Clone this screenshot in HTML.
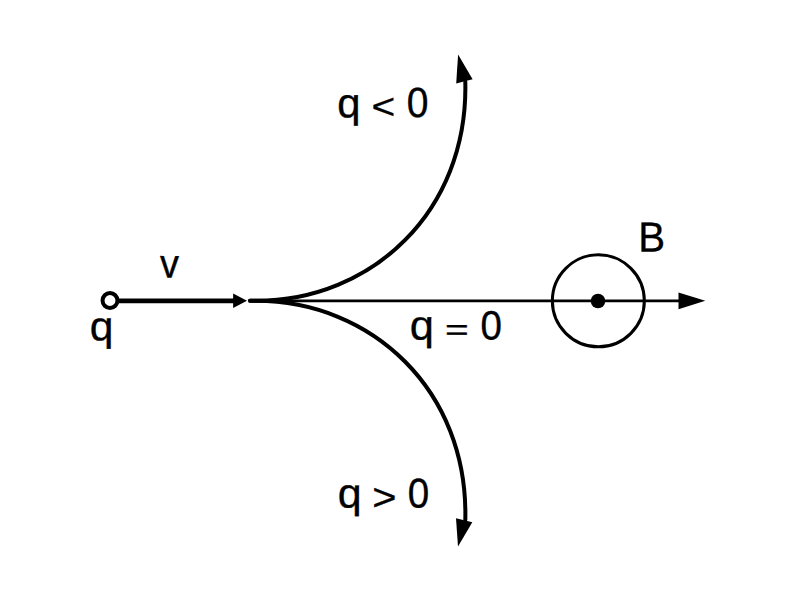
<!DOCTYPE html>
<html><head><meta charset="utf-8"><style>
html,body{margin:0;padding:0;background:#fff;width:800px;height:600px;overflow:hidden}
svg{display:block}
text{font-family:"Liberation Sans",sans-serif;font-size:100px;fill:#000;stroke:#000;text-rendering:geometricPrecision}
</style></head><body>
<svg width="800" height="600" viewBox="0 0 800 600">
<rect width="800" height="600" fill="#fff"/>
<line x1="117" y1="300.85" x2="234" y2="300.85" stroke="#000" stroke-width="4.6"/>
<polygon points="233.1,293.6 247,300.85 233.1,308.1" fill="#000"/>
<circle cx="110" cy="300.5" r="7.45" fill="#fff" stroke="#000" stroke-width="4.0"/>
<line x1="252" y1="300.85" x2="680" y2="300.85" stroke="#000" stroke-width="2.8"/>
<polygon points="678.5,292.4 705.3,300.85 678.5,309.3" fill="#000"/>
<path d="M250,300.85 L255.9,300.85 C371.6,300.85 468.5,211.5 465.3,81.7" fill="none" stroke="#000" stroke-width="4" stroke-linecap="round"/>
<path d="M250,300.85 L255.9,300.85 C371.6,300.85 468.5,390.2 465.3,520.0" fill="none" stroke="#000" stroke-width="4" stroke-linecap="round"/>
<polygon points="458.1,54.4 472.6,79.3 456.2,83.5" fill="#000"/>
<polygon points="458.0,546.6 472.3,522.2 456.0,518.2" fill="#000"/>
<circle cx="598.35" cy="300.85" r="46" fill="none" stroke="#000" stroke-width="3"/>
<circle cx="598" cy="301" r="7.25" fill="#000"/>
<text transform="matrix(0.41760 0.0005 0 0.41309 337.171 117.153)" stroke-width="0.843">q</text>
<text transform="matrix(0.40651 0.0005 0 0.36332 371.470 118.857)" stroke-width="0.911">&lt;</text>
<text transform="matrix(0.39015 0.0005 0 0.42161 406.651 117.013)" stroke-width="0.863">0</text>
<text transform="matrix(0.42981 0.0005 0 0.41376 337.870 507.539)" stroke-width="0.830">q</text>
<text transform="matrix(0.41475 0.0005 0 0.37711 372.330 510.061)" stroke-width="0.885">&gt;</text>
<text transform="matrix(0.38596 0.0005 0 0.41596 407.867 507.519)" stroke-width="0.874">0</text>
<text transform="matrix(0.43426 0.0005 0 0.41644 409.751 339.583)" stroke-width="0.823">q</text>
<text transform="matrix(0.40651 0.0005 0 0.29944 444.990 339.755)" stroke-width="1.003">=</text>
<text transform="matrix(0.38596 0.0005 0 0.40889 480.467 339.426)" stroke-width="0.881">0</text>
<text transform="matrix(0.38020 0.0005 0 0.40600 159.945 277.525)" stroke-width="0.891">v</text>
<text transform="matrix(0.42537 0.0005 0 0.40772 89.639 340.364)" stroke-width="0.840">q</text>
<text transform="matrix(0.40208 0.0005 0 0.41934 638.127 251.425)" stroke-width="0.852">B</text>
</svg>
</body></html>
